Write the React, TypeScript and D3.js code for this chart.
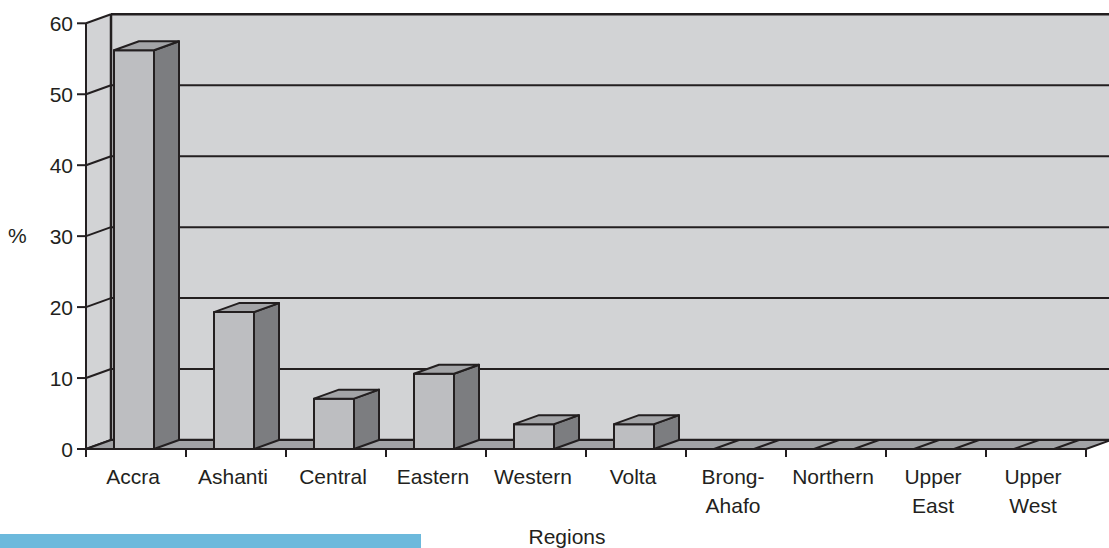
import { scaleBand, scaleLinear } from "d3";

const categories = [
  "Accra",
  "Ashanti",
  "Central",
  "Eastern",
  "Western",
  "Volta",
  "Brong-Ahafo",
  "Northern",
  "Upper East",
  "Upper West",
];
const labelLines = [
  ["Accra"],
  ["Ashanti"],
  ["Central"],
  ["Eastern"],
  ["Western"],
  ["Volta"],
  ["Brong-", "Ahafo"],
  ["Northern"],
  ["Upper", "East"],
  ["Upper", "West"],
];
const values = [56.2, 19.3, 7.1, 10.6, 3.5, 3.5, 0, 0, 0, 0];
const yTicks = [0, 10, 20, 30, 40, 50, 60];

const ink = "#231f20";
const font = "'Liberation Sans', Arial, sans-serif";
const fs = 21;

export default function App() {
  const width = 1109;
  const height = 548;
  // depth offset of the 3d floor / walls
  const dx = 25;
  const dy = -9;

  const x = scaleBand().domain(categories).range([86, 1086]).padding(0);
  const y = scaleLinear().domain([0, 60]).range([449, 23.3]);
  const bw = x.bandwidth();
  const y0 = y(0);
  const top = y(60);
  const right = width + 2;

  const pts = (a: number[][]) => a.map((p) => p.join(",")).join(" ");

  return (
    <div style={{ position: "fixed", left: 0, top: 0, width, height, background: "white" }}>
      <svg width={width} height={height} style={{ display: "block" }}>
        {/* back wall */}
        <rect
          x={86 + dx}
          y={top + dy}
          width={right - 86 - dx}
          height={y0 - top}
          fill="#d2d3d5"
        />
        {/* left wall */}
        <polygon
          points={pts([
            [86, y0],
            [86, top],
            [86 + dx, top + dy],
            [86 + dx, y0 + dy],
          ])}
          fill="#d2d3d5"
        />
        {/* gridlines */}
        {yTicks.map((t) => (
          <g key={t}>
            <line
              x1={86}
              y1={y(t)}
              x2={86 + dx}
              y2={y(t) + dy}
              stroke={ink}
              strokeWidth={2}
            />
            <line
              x1={86 + dx}
              y1={y(t) + dy}
              x2={right}
              y2={y(t) + dy}
              stroke={ink}
              strokeWidth={t === 60 || t === 0 ? 2.5 : 2}
            />
          </g>
        ))}
        <line x1={86 + dx} y1={top + dy} x2={86 + dx} y2={y0 + dy} stroke={ink} strokeWidth={2.5} />
        {/* floor */}
        <polygon
          points={pts([
            [86, y0],
            [86 + dx, y0 + dy],
            [1086 + dx, y0 + dy],
            [1086, y0],
          ])}
          fill="#a1a2a5"
          stroke={ink}
          strokeWidth={2}
          strokeLinejoin="round"
        />
        {/* bars */}
        {categories.map((c, i) => {
          const bx = (x(c) as number) + bw * 0.28;
          const w = bw * 0.4;
          const vy = y(values[i]);
          return (
            <g key={c} stroke={ink} strokeWidth={2} strokeLinejoin="round">
              {values[i] > 0 && (
                <>
                  <rect x={bx} y={vy} width={w} height={y0 - vy} fill="#bdbec1" />
                  <polygon
                    points={pts([
                      [bx + w, vy],
                      [bx + w + dx, vy + dy],
                      [bx + w + dx, y0 + dy],
                      [bx + w, y0],
                    ])}
                    fill="#7c7d80"
                  />
                </>
              )}
              <polygon
                points={pts([
                  [bx, vy],
                  [bx + dx, vy + dy],
                  [bx + w + dx, vy + dy],
                  [bx + w, vy],
                ])}
                fill="#a3a4a7"
              />
            </g>
          );
        })}
        {/* y axis */}
        <line x1={86} y1={top} x2={86} y2={y0} stroke={ink} strokeWidth={2} />
        {yTicks.map((t) => (
          <g key={t}>
            <line x1={77} y1={y(t)} x2={86} y2={y(t)} stroke={ink} strokeWidth={2} />
            <text
              x={73}
              y={y(t) + 7.5}
              textAnchor="end"
              fontFamily={font}
              fontSize={fs}
              fill={ink}
            >
              {t}
            </text>
          </g>
        ))}
        {/* x axis */}
        <line x1={86} y1={y0} x2={1086} y2={y0} stroke={ink} strokeWidth={2} />
        {[...categories.map((c) => x(c) as number), 1086].map((tx, i) => (
          <line key={i} x1={tx} y1={y0} x2={tx} y2={y0 + 8} stroke={ink} strokeWidth={2} />
        ))}
        {categories.map((c, i) => (
          <text
            key={c}
            x={(x(c) as number) + bw / 2 - 3}
            y={484}
            textAnchor="middle"
            fontFamily={font}
            fontSize={fs}
            fill={ink}
          >
            {labelLines[i].map((l, j) => (
              <tspan key={j} x={(x(c) as number) + bw / 2 - 3} dy={j === 0 ? 0 : 29}>
                {l}
              </tspan>
            ))}
          </text>
        ))}
        <text x={8} y={243} fontFamily={font} fontSize={fs} fill={ink}>
          %
        </text>
        <text x={567} y={544} textAnchor="middle" fontFamily={font} fontSize={fs} fill={ink}>
          Regions
        </text>
        <rect x={0} y={534} width={421} height={14} fill="#6cb9dc" />
      </svg>
    </div>
  );
}
